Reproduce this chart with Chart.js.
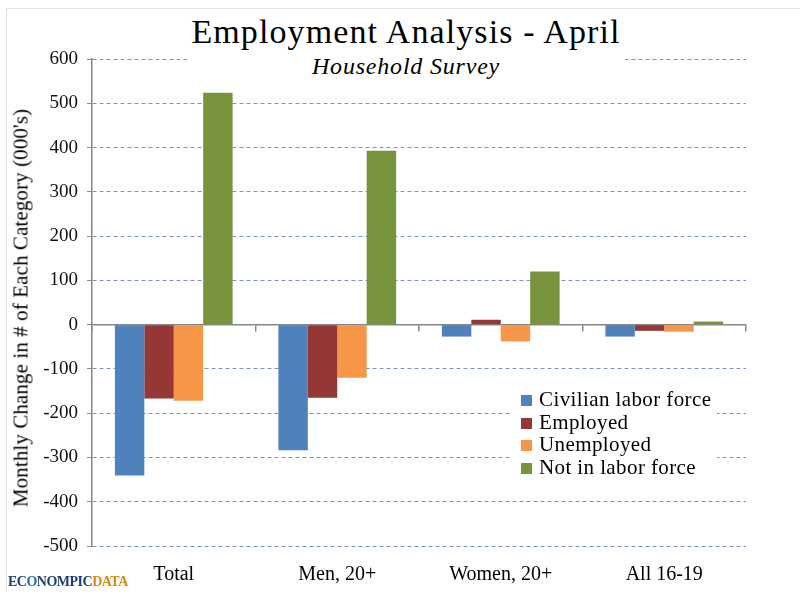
<!DOCTYPE html>
<html>
<head>
<meta charset="utf-8">
<script src="https://cdn.jsdelivr.net/npm/chart.js@4"></script>
<style>
  body { margin: 0; background: #fff; }
  #wrap { position: relative; width: 800px; height: 600px; }
  #frame { position: absolute; left: 6px; top: 8px; right: 0; bottom: 8px;
           border-top: 1px solid #e2e2e2; border-left: 1px solid #e2e2e2; }
  #heading { position: absolute; left: 187px; top: 12px; width: 438px; height: 70px;
             background: #fff; text-align: center; font-family: "Liberation Serif", serif; color: #000; }
  #heading .t { font-size: 34px; line-height: 40px; letter-spacing: 1.1px; }
  #heading .s { font-size: 24px; line-height: 28px; font-style: italic; letter-spacing: 0.8px; }
  #ytitle { position: absolute; left: 21px; top: 308px; transform: translate(-50%, -50%) rotate(-90deg);
            white-space: nowrap; font-family: "Liberation Serif", serif; font-size: 21px; letter-spacing: 0.1px; color: #000; }
  #legend { position: absolute; left: 510px; top: 388px; width: 207px; height: 92px;
            background: #fff; font-family: "Liberation Serif", serif; font-size: 21px; letter-spacing: 0.4px; color: #000; }
  #legend div { height: 22.7px; line-height: 22px; padding-left: 11px; white-space: nowrap; }
  #legend span { display: inline-block; width: 11px; height: 11px; margin-right: 7px; }
  #logo { position: absolute; left: 8px; top: 574px; font-family: "Liberation Serif", serif;
          font-weight: bold; font-size: 14px; letter-spacing: -0.5px; color: #1d3f7c; }
  #logo b { color: #d98a12; }
  #logo i { font-style: normal; color: #2b6cb5; }
</style>
</head>
<body>
<div id="wrap">
  <canvas id="chart" width="800" height="600"></canvas>
  <div id="frame"></div>
  <div id="heading"><div class="t">Employment Analysis - April</div><div class="s">Household Survey</div></div>
  <div id="ytitle">Monthly Change in # of Each Category (000's)</div>
  <div id="legend"></div>
  <div id="logo">EC<i>O</i>NOMPIC<b>DATA</b></div>
</div>
<script>
const categories = ['Total', 'Men, 20+', 'Women, 20+', 'All 16-19'];
const seriesNames = ['Civilian labor force', 'Employed', 'Unemployed', 'Not in labor force'];
const civilianLaborForce = [-341, -284, -27, -27];
const employed = [-167, -165, 11, -14];
const unemployed = [-172, -120, -38, -16];
const notInLaborForce = [524, 393, 120, 7];
const yTicks = [-500, -400, -300, -200, -100, 0, 100, 200, 300, 400, 500, 600];

const colors = ['#4f81bd', '#953735', '#f79646', '#77933c'];
const values = [civilianLaborForce, employed, unemployed, notInLaborForce];

const serif = '"Liberation Serif", serif';

// legend as html box (sits inside the plot like the original)
const legendEl = document.getElementById('legend');
seriesNames.forEach((name, i) => {
    const row = document.createElement('div');
    const sw = document.createElement('span');
    sw.style.background = colors[i];
    row.appendChild(sw);
    row.appendChild(document.createTextNode(name));
    legendEl.appendChild(row);
});

const ctx = document.getElementById('chart').getContext('2d');
new Chart(ctx, {
    type: 'bar',
    data: {
        labels: categories,
        datasets: seriesNames.map((name, i) => ({
            label: name,
            data: values[i],
            backgroundColor: colors[i],
            borderColor: colors[i],
            borderWidth: 0,
            categoryPercentage: 0.72,
            barPercentage: 1.0
        }))
    },
    options: {
        responsive: false,
        animation: false,
        layout: { padding: { left: 8, right: 54, top: 59, bottom: 8 } },
        plugins: {
            legend: { display: false },
            tooltip: { enabled: false }
        },
        scales: {
            x: {
                position: 'bottom',
                grid: { display: false },
                border: { display: false },
                ticks: { color: '#000', font: { family: serif, size: 20 }, padding: 9 },
                afterFit: s => { s.height = 46; }
            },
            xZero: {
                type: 'category',
                labels: categories,
                position: { y: 0 },
                offset: true,
                grid: { drawOnChartArea: false, drawTicks: true, tickLength: 6, color: '#868686', lineWidth: 1.5 },
                border: { display: true, color: '#868686', width: 1.5 },
                ticks: { display: false }
            },
            y: {
                min: -500,
                max: 600,
                afterBuildTicks: s => { s.ticks = yTicks.map(v => ({ value: v })); },
                grid: {
                    color: c => c.tick && c.tick.value === 0 ? 'rgba(0,0,0,0)' : '#7e93c3',
                    lineWidth: 1,
                    drawTicks: true,
                    tickLength: 5,
                    tickColor: '#868686'
                },
                border: { display: true, color: '#868686', width: 1.5, dash: [4, 3] },
                ticks: { color: '#111', font: { family: serif, size: 19 }, padding: 9 },
                afterFit: s => { s.width = 84; }
            }
        }
    }
});
</script>
</body>
</html>
